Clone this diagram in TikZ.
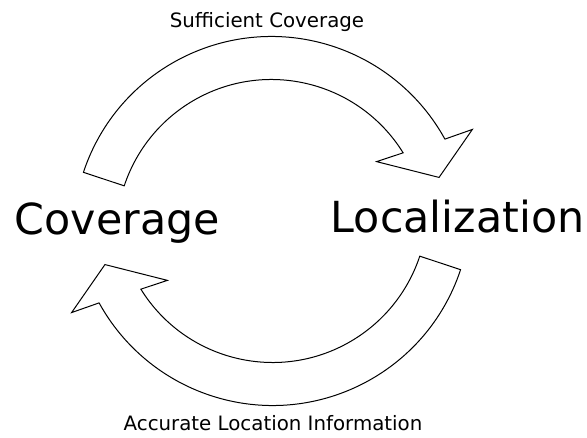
\documentclass[tikz,border=0pt]{standalone}
\usepackage{fontspec}
\setmainfont{DejaVu Sans}
\begin{document}
\begin{tikzpicture}[x=1pt,y=1pt,
  turnarrow/.style={draw=black, fill=white, line width=1pt, line join=miter},
  bigword/.style={font=\fontsize{42.8}{50}\selectfont, anchor=base, inner sep=0pt},
  smallword/.style={font=\fontsize{19.8}{24}\selectfont, anchor=base, inner sep=0pt},
  arrowband/.pic={
    \draw[turnarrow] (161.7:198) arc[start angle=161.7, end angle=28.8, radius=198]
      -- (27.6:226.8) -- (18.8:177.1) -- (34.7:128) -- (31.8:155)
      arc[start angle=31.8, end angle=161.7, radius=155] -- cycle;
  }]
\useasboundingbox (0,0) rectangle (587,437);

% upper arrow: coverage -> localization
\pic at (271.4,202.5) {arrowband};
% lower arrow: localization -> coverage
\pic[rotate=180] at (272.6,229.5) {arrowband};

\node[bigword] (cov) at (117.3,202) {Coverage};
\node[bigword] (loc) at (457.5,204) {Localization};
\node[smallword] (suff) at (267,409.3) {Sufficient Coverage};
\node[smallword] (acc) at (273,6) {Accurate Location Information};
\end{tikzpicture}
\end{document}
